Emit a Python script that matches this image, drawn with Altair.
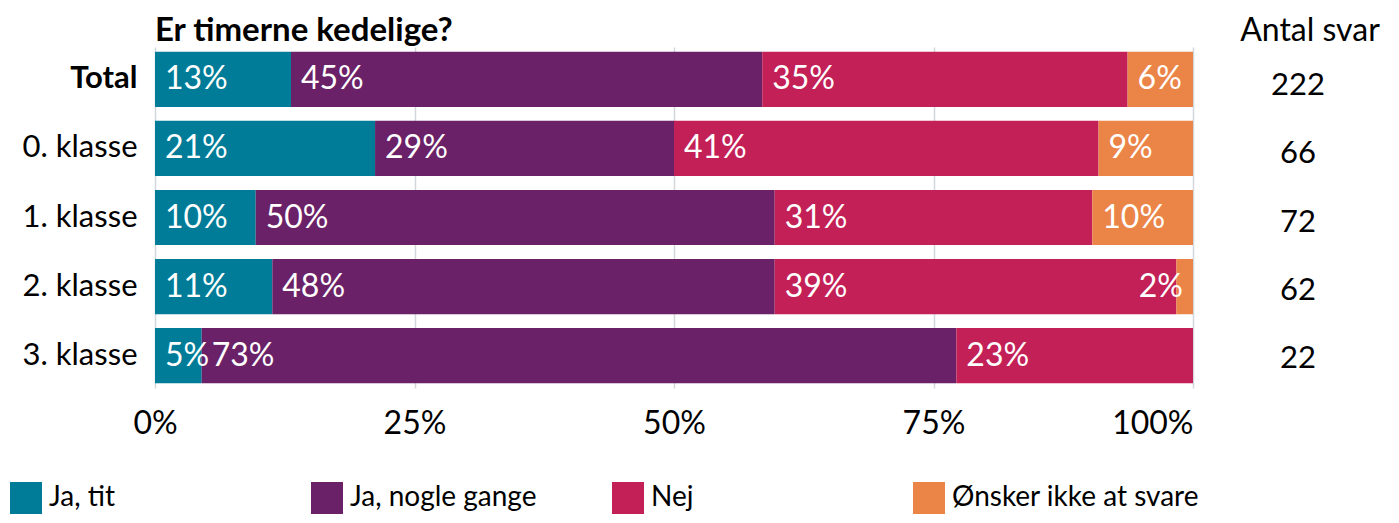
import altair as alt
import pandas as pd

rows = ["Total", "0. klasse", "1. klasse", "2. klasse", "3. klasse"]
answers = ["Ja, tit", "Ja, nogle gange", "Nej", "Ønsker ikke at svare"]
colors = ["#007C98", "#6A2167", "#C32057", "#EB8447"]

pct_ja_tit = [13.1, 21.2, 9.7, 11.3, 4.5]
pct_nogle_gange = [45.4, 28.8, 50.0, 48.4, 72.7]
pct_nej = [35.2, 40.9, 30.6, 38.7, 22.8]
pct_onsker_ikke = [6.3, 9.1, 9.7, 1.6, 0.0]
antal_svar = [222, 66, 72, 62, 22]

x_ticks = [0, 0.25, 0.5, 0.75, 1.0]

series = [pct_ja_tit, pct_nogle_gange, pct_nej, pct_onsker_ikke]
records = []
for i, r in enumerate(rows):
    for j, a in enumerate(answers):
        records.append({"row": r, "answer": a, "order": j, "pct": series[j][i]})
df = pd.DataFrame(records)
counts = pd.DataFrame({"row": rows, "n": antal_svar})

FONT = "Lato"
FS = 32

band = alt.Scale(paddingInner=0.2, paddingOuter=0.07)

y_main = alt.Y(
    "row:N", sort=rows, scale=band, title=None,
    axis=alt.Axis(
        labelFontSize=31, labelFont=FONT, labelColor="black", labelPadding=18,
        ticks=False, domain=False, grid=False, labelLimit=300,
        labelFontWeight={"condition": {"test": "datum.value === 'Total'", "value": "bold"}, "value": "normal"},
    ),
)

base = alt.Chart(df).transform_stack(
    stack="pct", groupby=["row"], sort=[alt.SortField("order")], as_=["x0", "x1"], offset="normalize"
)

bars = base.mark_bar().encode(
    x=alt.X(
        "x0:Q", scale=alt.Scale(domain=[0, 1], nice=False), title=None,
        axis=alt.Axis(
            values=x_ticks, format=".0%", labelFontSize=FS, labelFont=FONT, labelColor="black",
            labelPadding=20, ticks=False, domain=False, grid=True, gridColor="#D3D7DB", gridWidth=1.5,
            labelFlush=False,
            labelAlign={"condition": {"test": "datum.value === 1", "value": "right"}, "value": "center"},
        ),
    ),
    x2="x1:Q",
    y=y_main,
    color=alt.Color(
        "answer:N", scale=alt.Scale(domain=answers, range=colors),
        legend=alt.Legend(
            orient="none", legendX=-145, legendY=435, direction="horizontal", columns=4,
            title=None, symbolType="square", symbolSize=1024, symbolStrokeWidth=0, symbolOpacity=1,
            labelFontSize=28, labelFont=FONT, labelColor="black", labelOffset=7,
            columnPadding=14, gridAlign="all", labelLimit=400,
        ),
    ),
    order=alt.Order("order:Q"),
)

labels = base.transform_filter("datum.pct >= 3").transform_calculate(
    label="round(datum.pct) + '%'"
).mark_text(align="left", dx=10, color="white", fontSize=FS, font=FONT, baseline="middle").encode(
    x="x0:Q", y=alt.Y("row:N", sort=rows), text="label:N"
)

small_labels = base.transform_filter("datum.pct > 0 && datum.pct < 3").transform_calculate(
    label="round(datum.pct) + '%'"
).mark_text(align="right", dx=-10, color="white", fontSize=FS, font=FONT, baseline="middle").encode(
    x="x1:Q", y=alt.Y("row:N", sort=rows), text="label:N"
)

main = alt.layer(bars, labels, small_labels).properties(
    width=1038, height=341,
    title=alt.TitleParams(
        "Er timerne kedelige?", anchor="start", frame="group", fontSize=33, font=FONT,
        fontWeight="bold", color="black", offset=-1,
    ),
)

side = alt.Chart(counts).mark_text(fontSize=31, font=FONT, color="black", dy=5, baseline="middle").encode(
    y=alt.Y("row:N", sort=rows, scale=band, axis=None),
    text="n:Q",
).properties(
    width=170, height=341,
    title=alt.TitleParams(
        "Antal svar", anchor="middle", frame="group", fontSize=FS, font=FONT,
        fontWeight="normal", color="black", offset=-1, dx=12,
    ),
)

chart = alt.hconcat(main, side, spacing=20).resolve_scale(
    y="independent"
).properties(
    padding={"left": 2, "top": 7, "right": 2, "bottom": 0}
).configure_view(stroke=None)

chart.save("out.html", embed_options={"renderer": "svg", "actions": False})
